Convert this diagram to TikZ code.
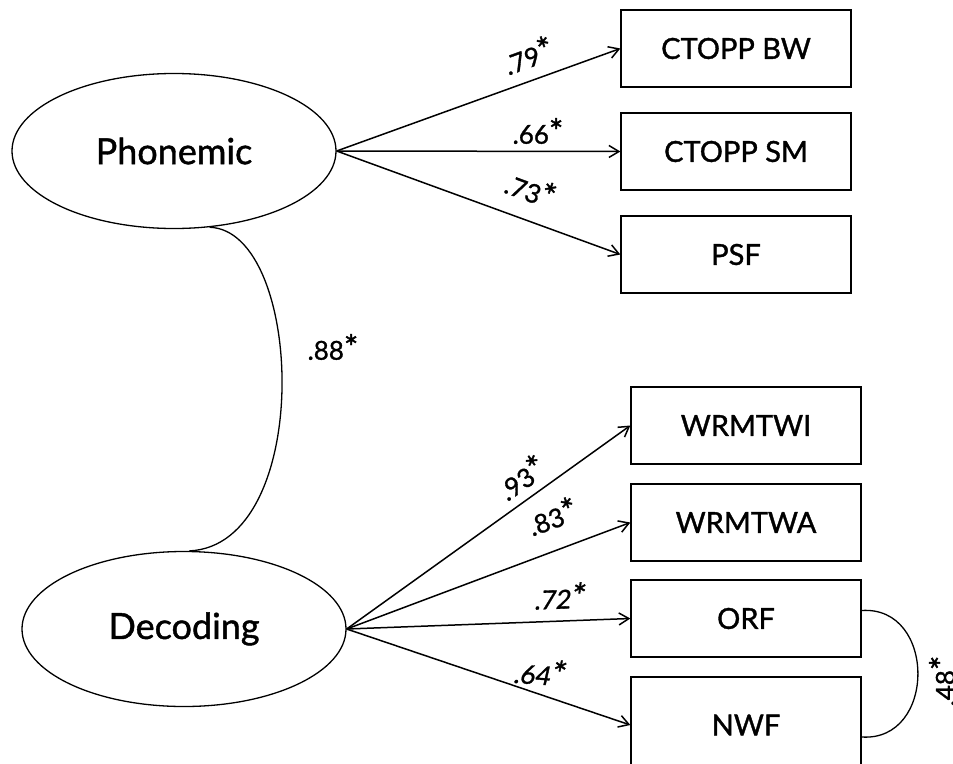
\documentclass[tikz,border=0pt]{standalone}
\usepackage{fontspec}
\setmainfont{Lato}[FakeBold=1.2]
\usetikzlibrary{arrows.meta,shapes.geometric}
\newcommand{\sigstar}{{\fontsize{34}{34}\selectfont*}}
\begin{document}
\begin{tikzpicture}[x=1pt,y=-1pt,
  latent/.style={ellipse,draw,line width=1.3pt,inner sep=0pt,minimum width=324pt,minimum height=155pt,font=\fontsize{36}{40}\selectfont},
  obs/.style={rectangle,draw,line width=1.3pt,inner sep=0pt,minimum width=230pt,minimum height=77pt,font=\fontsize{29}{33}\selectfont},
  arr/.style={line width=1.5pt,-{Straight Barb[length=10pt,width=12pt]}},
  cov/.style={line width=1.3pt},
  lab/.style={inner sep=0pt,font=\fontsize{26}{30}\selectfont}]
\useasboundingbox (0,0) rectangle (953,763);
\node[latent] (phon) at (174,151) {Phonemic};
\node[latent] (dec) at (184,629) {Decoding};
\node[obs] (bw) at (736,48.5) {CTOPP BW};
\node[obs] (sm) at (736,151.5) {CTOPP SM};
\node[obs] (psf) at (736,254.5) {PSF};
\node[obs] (wi) at (746,425.5) {WRMTWI};
\node[obs] (wa) at (746,522.5) {WRMTWA};
\node[obs] (orf) at (746,618.5) {ORF};
\node[obs,minimum height=96pt] (nwf) at (746,725) {NWF};
\draw[arr] (phon.east) -- (bw.west);
\draw[arr] (phon.east) -- (sm.west);
\draw[arr] (phon.east) -- (psf.west);
\draw[arr] (dec.east) -- (wi.west);
\draw[arr] (dec.east) -- (wa.west);
\draw[arr] (dec.east) -- (orf.west);
\draw[arr] (dec.east) -- (nwf.west);
\draw[cov] (phon.-65) .. controls +(95,3) and +(125,-6) .. (dec.86);
\draw[cov] ([yshift=8pt]orf.east) .. controls +(75,-5) and +(75,5) .. ([yshift=-12pt]nwf.east);
\node[lab,rotate=20] (l79) at (528,55) {.79\sigstar};
\node[lab] (l66) at (538,131) {.66\sigstar};
\node[lab,rotate=-20] (l73) at (531,189) {.73\sigstar};
\node[lab,rotate=35] (l93) at (521,477) {.93\sigstar};
\node[lab,rotate=20] (l83) at (552,516) {.83\sigstar};
\node[lab,rotate=2,xslant=0.15] (l72) at (561,596) {.72\sigstar};
\node[lab,rotate=-4,xslant=0.15] (l64) at (541,672) {.64\sigstar};
\node[lab] (l88) at (333,347) {.88\sigstar};
\node[lab,rotate=90] (l48) at (942,681) {.48\sigstar};
\end{tikzpicture}
\end{document}
